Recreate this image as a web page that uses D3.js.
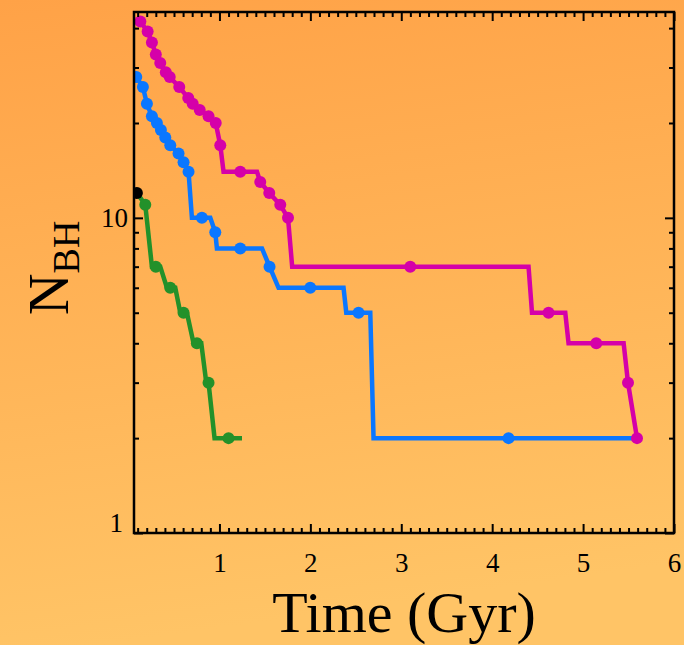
<!DOCTYPE html>
<html>
<head>
<meta charset="utf-8">
<script src="https://cdn.jsdelivr.net/npm/d3@7"></script>
<style>
  html, body { margin: 0; padding: 0; }
  body { width: 684px; height: 645px; overflow: hidden; }
  text { font-family: "Liberation Serif", "DejaVu Serif", serif; fill: #000; }
</style>
</head>
<body>
<script>
const width = 684;
const height = 645;
const plot = { left: 134, right: 674, top: 12, bottom: 533 };

// data: time in Gyr, number of black holes
const magentaT = [0.13, 0.21, 0.257, 0.30, 0.349, 0.41, 0.453, 0.558, 0.657, 0.706, 0.783, 0.88, 0.959, 1.009, 1.045, 1.229, 1.413, 1.449, 1.548, 1.669, 1.754, 1.80, 3.099, 4.40, 4.438, 4.62, 4.804, 4.84, 5.145, 5.446, 5.494, 5.593];
const magentaN = [42, 39, 36, 33, 31, 29, 28, 26, 24, 23, 22, 21, 20, 17, 14, 14, 14, 13, 12, 11, 10, 7, 7, 7, 5, 5, 5, 4, 4, 4, 3, 2];
const magentaDotT = [0.13, 0.21, 0.257, 0.30, 0.349, 0.41, 0.453, 0.558, 0.657, 0.706, 0.783, 0.88, 0.959, 1.009, 1.229, 1.449, 1.548, 1.669, 1.754, 3.099, 4.62, 5.145, 5.494, 5.593];
const magentaDotN = [42, 39, 36, 33, 31, 29, 28, 26, 24, 23, 22, 21, 20, 17, 14, 13, 12, 11, 10, 7, 5, 4, 3, 2];

const blueT = [0.085, 0.158, 0.202, 0.257, 0.312, 0.356, 0.404, 0.459, 0.55, 0.605, 0.66, 0.697, 0.807, 0.899, 0.954, 0.972, 1.229, 1.468, 1.551, 1.65, 1.999, 2.365, 2.395, 2.53, 2.659, 2.695, 4.18, 5.555];
const blueN = [28, 26, 23, 21, 20, 19, 18, 17, 16, 15, 14, 10, 10, 10, 9, 8, 8, 8, 7, 6, 6, 6, 5, 5, 5, 2, 2, 2];
const blueDotT = [0.085, 0.158, 0.202, 0.257, 0.312, 0.356, 0.404, 0.459, 0.55, 0.605, 0.66, 0.807, 0.954, 1.229, 1.551, 1.999, 2.53, 4.18];
const blueDotN = [28, 26, 23, 21, 20, 19, 18, 17, 16, 15, 14, 10, 9, 8, 7, 6, 5, 2];

const greenT = [0.092, 0.184, 0.257, 0.30, 0.349, 0.422, 0.459, 0.514, 0.569, 0.605, 0.642, 0.715, 0.752, 0.80, 0.855, 0.88, 0.946, 1.10, 1.248];
const greenN = [12, 11, 7, 7, 7, 6, 6, 6, 5, 5, 5, 4, 4, 4, 3, 3, 2, 2, 2];
const greenDotT = [0.184, 0.30, 0.459, 0.605, 0.752, 0.88, 1.10];
const greenDotN = [11, 7, 6, 5, 4, 3, 2];

// first snapshot (black)
const startT = [0.092];
const startN = [12];

const xTicks = [1, 2, 3, 4, 5, 6];
const yTicks = [1, 10];
const yMinorTicks = [2, 3, 4, 5, 6, 7, 8, 9, 20, 30, 40];

const series = [
  { t: magentaT, n: magentaN, dt: magentaDotT, dn: magentaDotN, color: "#d500a9" },
  { t: blueT, n: blueN, dt: blueDotT, dn: blueDotN, color: "#0a77ff" },
  { t: greenT, n: greenN, dt: greenDotT, dn: greenDotN, color: "#23912a" }
];

const svg = d3.select("body").append("svg")
  .attr("width", width)
  .attr("height", height);

const defs = svg.append("defs");
const grad = defs.append("linearGradient")
  .attr("id", "bg")
  .attr("x1", 0).attr("y1", 0).attr("x2", 0.15).attr("y2", 1);
grad.append("stop").attr("offset", "0%").attr("stop-color", "#ffa247");
grad.append("stop").attr("offset", "100%").attr("stop-color", "#ffc466");

defs.append("clipPath").attr("id", "clip")
  .append("rect")
  .attr("x", plot.left).attr("y", plot.top)
  .attr("width", plot.right - plot.left)
  .attr("height", plot.bottom - plot.top);

svg.append("rect")
  .attr("width", width).attr("height", height)
  .attr("fill", "url(#bg)");

const x = d3.scaleLinear().domain([0.06, 6]).range([plot.left, plot.right]);
const y = d3.scaleLog().domain([1, 45]).range([plot.bottom, plot.top]);

const xMinor = d3.range(1, 60).map(i => i / 10).filter(v => !xTicks.includes(v));

// lines and dots
const marks = svg.append("g").attr("clip-path", "url(#clip)");
const line = d3.line().x(d => x(d[0])).y(d => y(d[1]));

series.forEach(s => {
  marks.append("path")
    .datum(s.t.map((t, i) => [t, s.n[i]]))
    .attr("fill", "none")
    .attr("stroke", s.color)
    .attr("stroke-width", 4.5)
    .attr("stroke-linejoin", "miter")
    .attr("d", line);
});

series.forEach(s => {
  marks.selectAll(null)
    .data(s.dt.map((t, i) => [t, s.dn[i]]))
    .enter().append("circle")
    .attr("cx", d => x(d[0]))
    .attr("cy", d => y(d[1]))
    .attr("r", 6)
    .attr("fill", s.color);
});

marks.selectAll(null)
  .data(startT.map((t, i) => [t, startN[i]]))
  .enter().append("circle")
  .attr("cx", d => x(d[0]))
  .attr("cy", d => y(d[1]))
  .attr("r", 6)
  .attr("fill", "#000");

// axes: ticks point inward on all four sides
const axes = svg.append("g").attr("class", "axes");

function drawAxis(axis, tx, ty) {
  const g = axes.append("g")
    .attr("transform", `translate(${tx},${ty})`)
    .call(axis);
  g.select(".domain").remove();
  g.selectAll(".tick line").attr("stroke", "#000").attr("stroke-width", 2);
  return g;
}

// minor ticks
drawAxis(d3.axisBottom(x).tickValues(xMinor).tickSize(-5).tickFormat(""), 0, plot.bottom);
drawAxis(d3.axisTop(x).tickValues(xMinor).tickSize(-5).tickFormat(""), 0, plot.top);
drawAxis(d3.axisLeft(y).tickValues(yMinorTicks).tickSize(-5).tickFormat(""), plot.left, 0);
drawAxis(d3.axisRight(y).tickValues(yMinorTicks).tickSize(-5).tickFormat(""), plot.right, 0);

// major ticks
const xb = drawAxis(d3.axisBottom(x).tickValues(xTicks).tickSize(-9).tickPadding(20).tickFormat(d3.format("d")), 0, plot.bottom);
xb.selectAll("text").style("font-size", "27px").style("font-family", "Liberation Serif");
drawAxis(d3.axisTop(x).tickValues(xTicks).tickSize(-9).tickFormat(""), 0, plot.top);
const yl = drawAxis(d3.axisLeft(y).tickValues(yTicks).tickSize(-9).tickPadding(7).tickFormat(d3.format("d")), plot.left, 0);
yl.selectAll("text").style("font-size", "27px").style("font-family", "Liberation Serif")
  .attr("dy", d => d === 1 ? "-0.05em" : "0.32em")
  .attr("x", d => d === 1 ? -11 : -6);
drawAxis(d3.axisRight(y).tickValues(yTicks).tickSize(-9).tickFormat(""), plot.right, 0);

// frame
svg.append("rect")
  .attr("x", plot.left).attr("y", plot.top)
  .attr("width", plot.right - plot.left)
  .attr("height", plot.bottom - plot.top)
  .attr("fill", "none")
  .attr("stroke", "#000")
  .attr("stroke-width", 2.5);

// axis titles
svg.append("text")
  .attr("x", 404)
  .attr("y", 632)
  .attr("text-anchor", "middle")
  .style("font-size", "58px")
  .text("Time (Gyr)");

const yTitle = svg.append("text")
  .attr("transform", "translate(68,268) rotate(-90)")
  .attr("text-anchor", "middle")
  .style("font-size", "58px");
yTitle.append("tspan").text("N");
yTitle.append("tspan")
  .attr("dy", 11)
  .style("font-size", "38px")
  .text("BH");
</script>
</body>
</html>
